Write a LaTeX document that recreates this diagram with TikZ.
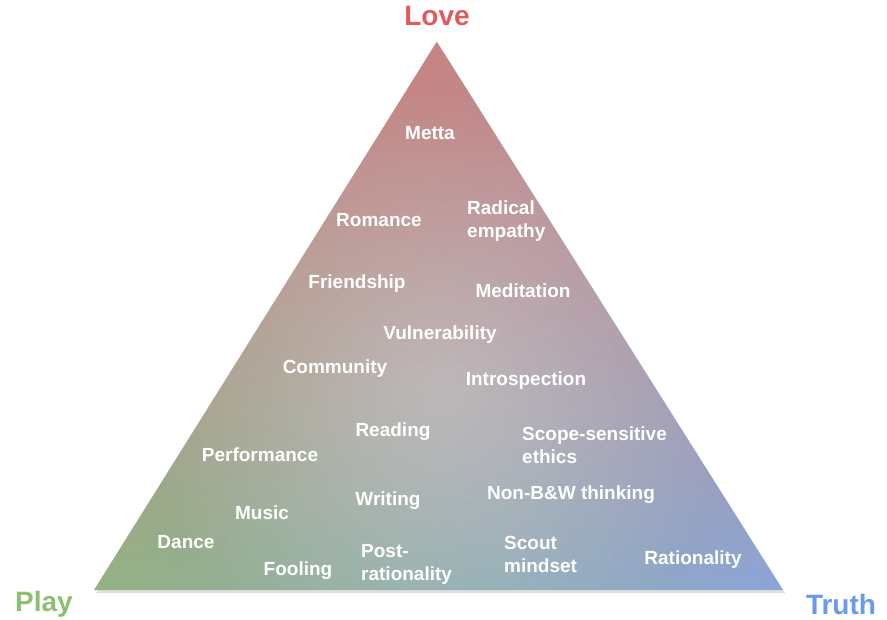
\documentclass[tikz,border=0pt]{standalone}
\usepackage{fontspec}
\setmainfont{Liberation Sans}
\usetikzlibrary{fadings}
\tikzfading[name=redfade, top color=transparent!0, middle color=transparent!72, bottom color=transparent!100]
\tikzfading[name=glow, inner color=transparent!72, outer color=transparent!100]
\definecolor{lovec}{HTML}{E05C5C}
\definecolor{playc}{HTML}{8CC06E}
\definecolor{truthc}{HTML}{6A9BE8}
\definecolor{topc}{HTML}{CA8383}
\definecolor{leftc}{HTML}{93B383}
\definecolor{midc}{HTML}{AEC2B9}
\definecolor{rightc}{HTML}{8CA5D8}
\tikzset{
  lab/.style={text=white, font=\bfseries\fontsize{19}{23}\selectfont, align=left, inner sep=0pt},
  corner/.style={font=\bfseries\fontsize{28}{30}\selectfont, inner sep=0pt}
}
\begin{document}
\begin{tikzpicture}[x=1pt,y=-1pt]
\useasboundingbox (0,0) rectangle (887,620);
% triangle corners
\coordinate (A) at (437,42);
\coordinate (B) at (94,590);
\coordinate (C) at (783,590);
% shadow
\fill[black!12] ([shift={(2,3)}]A) -- ([shift={(2,3)}]B) -- ([shift={(2,3)}]C) -- cycle;
% base horizontal gradient
\shade[left color=leftc, middle color=midc, right color=rightc] (A) -- (B) -- (C) -- cycle;
% red overlay fading downward
\fill[topc, path fading=redfade] (A) -- (B) -- (C) -- cycle;
% light glow in the middle
\begin{scope}
\clip (A) -- (B) -- (C) -- cycle;
\coordinate (G) at (440,390);
\fill[white, path fading=glow] (G) circle[radius=300];
\end{scope}

% corner labels
\node[corner, text=lovec] (love) at (437,16) {Love};
\node[corner, text=playc] (play) at (44,604) {Play};
\node[corner, text=truthc] (truth) at (841,604) {Truth};

% inner labels
\node[lab] (metta) at (430,133) {Metta};
\node[lab] (romance) at (379,220) {Romance};
\node[lab, anchor=west] (radical) at (467,221) {Radical\\empathy};
\node[lab] (friendship) at (357,284) {Friendship};
\node[lab] (meditation) at (523,291) {Meditation};
\node[lab] (vulnerability) at (440,335) {Vulnerability};
\node[lab] (community) at (335,369) {Community};
\node[lab] (introspection) at (526,381) {Introspection};
\node[lab] (reading) at (393,432) {Reading};
\node[lab] (performance) at (260,455) {Performance};
\node[lab, anchor=west] (scope) at (522,445) {Scope-sensitive\\ethics};
\node[lab] (nonbw) at (571,495) {Non-B\&W thinking};
\node[lab] (music) at (262,513) {Music};
\node[lab] (writing) at (388,501) {Writing};
\node[lab] (dance) at (186,542) {Dance};
\node[lab] (fooling) at (298,571) {Fooling};
\node[lab, anchor=west] (postrat) at (361,564) {Post-\\rationality};
\node[lab, anchor=west] (scout) at (504,554) {Scout\\mindset};
\node[lab] (rationality) at (693,560) {Rationality};
\end{tikzpicture}
\end{document}
